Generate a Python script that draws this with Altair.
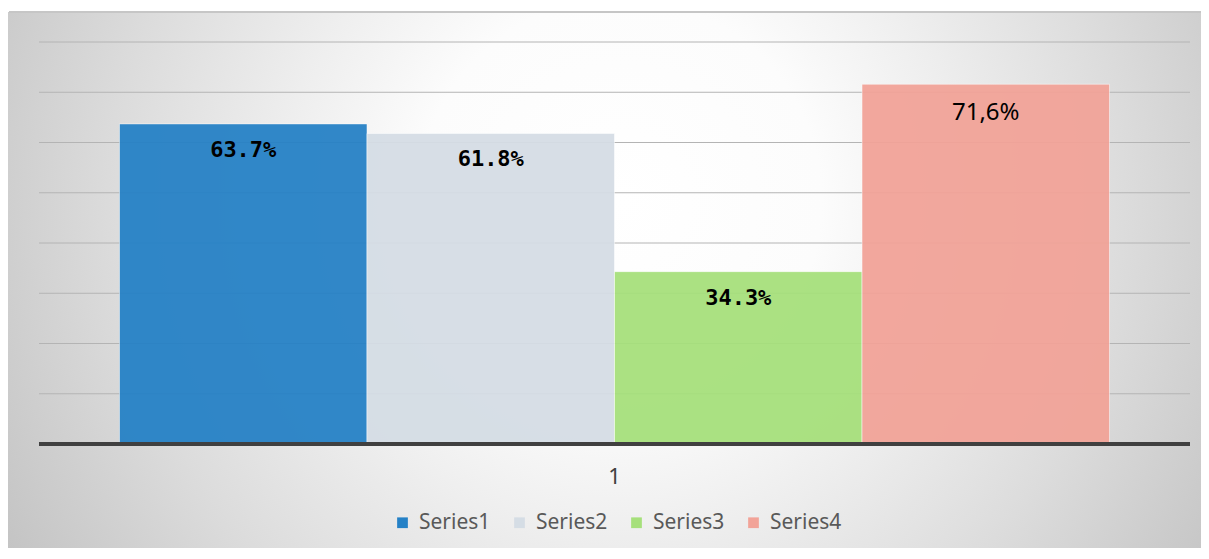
import altair as alt
import pandas as pd

# ---- data ----
categories = ["1", "1", "1", "1"]
series = ["Series1", "Series2", "Series3", "Series4"]
values = [0.637, 0.618, 0.343, 0.716]
labels = ["63.7%", "61.8%", "34.3%", "71,6%"]
label_style = ["mono", "mono", "mono", "plain"]
colors = ["#2581C6", "#D5DDE5", "#A6E07B", "#F2A398"]
grid_values = [0.1, 0.2, 0.3, 0.4, 0.5, 0.6, 0.7, 0.8]

df = pd.DataFrame({"cat": categories, "series": series, "value": values,
                   "label": labels, "style": label_style})
grid_df = pd.DataFrame({"value": grid_values})
base_df = pd.DataFrame({"value": [0.0]})

W, H = 1151, 402

x_enc = alt.X("cat:N",
              scale=alt.Scale(paddingInner=0, paddingOuter=0.0813),
              axis=alt.Axis(title=None, labelAngle=0, ticks=False, domain=False,
                            labelFontSize=22, labelFont="Noto Sans",
                            labelColor="#404040", labelPadding=22, zindex=1))
xo_enc = alt.XOffset("series:N", sort=series,
                     scale=alt.Scale(paddingInner=0, paddingOuter=0))
y_enc = alt.Y("value:Q", scale=alt.Scale(domain=[0, 0.8], nice=False, zero=True),
              axis=None)

gradient = {
    "gradient": "radial",
    "x1": 0.5, "y1": 0.5, "r1": 0,
    "x2": 0.5, "y2": 0.5, "r2": 0.5,
    "stops": [
        {"offset": 0.0, "color": "#ffffff"},
        {"offset": 0.28, "color": "#fcfcfc"},
        {"offset": 0.47, "color": "#eeeeee"},
        {"offset": 0.70, "color": "#dcdcdc"},
        {"offset": 0.85, "color": "#cfcfcf"},
        {"offset": 1.0, "color": "#c2c2c2"},
    ],
}

deco = alt.Data(values=[{"k": 1}])

bg = alt.Chart(deco).mark_rect(fill=gradient, stroke=None).encode(
    x=alt.value(-139), x2=alt.value(1301), y=alt.value(-562), y2=alt.value(878))
top_white = alt.Chart(deco).mark_rect(fill="white").encode(
    x=alt.value(-40), x2=alt.value(1200), y=alt.value(-40), y2=alt.value(-30))
top_border = alt.Chart(deco).mark_rule(color="#c6c6c6", strokeWidth=2).encode(
    x=alt.value(-30), x2=alt.value(1200), y=alt.value(-30))

grid = alt.Chart(grid_df).mark_rule(color="#b4b4b4", strokeWidth=1).encode(y=y_enc)

bars = alt.Chart(df).mark_bar(opacity=0.94, stroke="white", strokeWidth=1,
                              strokeOpacity=0.5).encode(
    x=x_enc, xOffset=xo_enc, y=y_enc,
    color=alt.Color("series:N", sort=series,
                    scale=alt.Scale(domain=series, range=colors),
                    legend=alt.Legend(title=None, orient="none", legendX=353, legendY=470,
                                      direction="horizontal", symbolType="square",
                                      symbolSize=115, symbolStrokeWidth=0, symbolOpacity=1,
                                      labelFont="Noto Sans", labelFontSize=21,
                                      labelColor="#595959", columnPadding=18,
                                      labelOffset=6)))

baseline = alt.Chart(base_df).mark_rule(color="#404040", strokeWidth=4).encode(y=y_enc)

mono = alt.Chart(df).transform_filter(alt.datum.style == "mono").mark_text(
    font="DejaVu Sans Mono", fontWeight="bold", fontSize=22, dy=26,
    baseline="middle", color="black").encode(
    x=x_enc, xOffset=xo_enc, y=y_enc, text="label:N")

plain = alt.Chart(df).transform_filter(alt.datum.style == "plain").mark_text(
    font="Noto Sans", fontSize=24, dy=29, baseline="middle", color="black").encode(
    x=x_enc, xOffset=xo_enc, y=y_enc, text="label:N")

chart = alt.layer(bg, top_white, top_border, grid, bars, baseline, mono, plain).properties(
    width=W, height=H,
    padding={"left": 31, "top": 34, "right": 11, "bottom": 104},
    autosize=alt.AutoSizeParams(type="none"),
    background="white",
).configure_view(stroke=None)

chart.save("out.html", embed_options={"renderer": "svg", "actions": False})
